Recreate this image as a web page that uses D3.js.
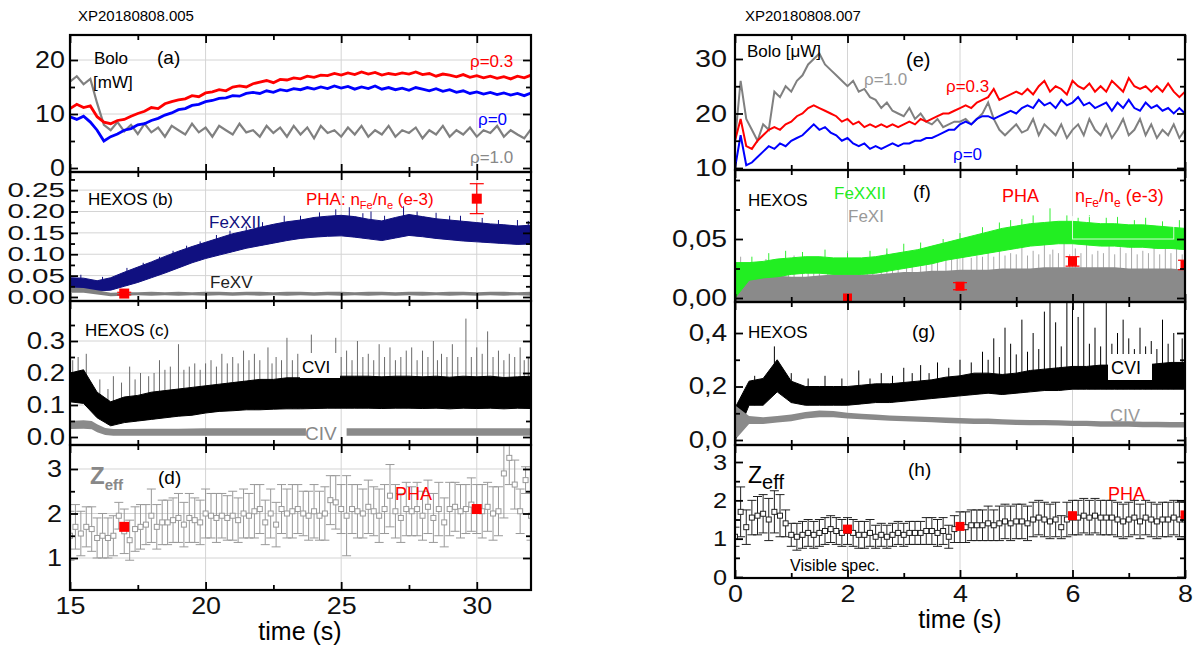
<!DOCTYPE html>
<html><head><meta charset="utf-8">
<script src="https://cdn.jsdelivr.net/npm/d3@7"></script>
<style>body{margin:0;background:#fff}svg text{font-family:"Liberation Sans",Arial,sans-serif}</style>
</head><body><svg id="c" width="1197" height="650"></svg>
<script>
// ---------- time grids ----------
const tA = [15,15.25,15.5,15.75,16,16.25,16.5,16.75,17,17.25,17.5,17.75,18,18.25,18.5,18.75,19,19.25,19.5,19.75,20,20.25,20.5,20.75,21,21.25,21.5,21.75,22,22.25,22.5,22.75,23,23.25,23.5,23.75,24,24.25,24.5,24.75,25,25.25,25.5,25.75,26,26.25,26.5,26.75,27,27.25,27.5,27.75,28,28.25,28.5,28.75,29,29.25,29.5,29.75,30,30.25,30.5,30.75,31,31.25,31.5,31.75,32];
const tB = [15,15.5,16,16.5,17,17.5,18,18.5,19,19.5,20,20.5,21,21.5,22,22.5,23,23.5,24,24.5,25,25.5,26,26.5,27,27.5,28,28.5,29,29.5,30,30.5,31,31.5,32];
const tZL = [15,15.2,15.4,15.6,15.8,16,16.2,16.4,16.6,16.8,17,17.2,17.4,17.6,17.8,18,18.2,18.4,18.6,18.8,19,19.2,19.4,19.6,19.8,20,20.2,20.4,20.6,20.8,21,21.2,21.4,21.6,21.8,22,22.2,22.4,22.6,22.8,23,23.2,23.4,23.6,23.8,24,24.2,24.4,24.6,24.8,25,25.2,25.4,25.6,25.8,26,26.2,26.4,26.6,26.8,27,27.2,27.4,27.6,27.8,28,28.2,28.4,28.6,28.8,29,29.2,29.4,29.6,29.8,30,30.2,30.4,30.6,30.8,31,31.2,31.4,31.6,31.8,32];
const tR = [0,0.1,0.2,0.3,0.4,0.5,0.6,0.7,0.8,0.9,1,1.1,1.2,1.3,1.4,1.5,1.6,1.7,1.8,1.9,2,2.1,2.2,2.3,2.4,2.5,2.6,2.7,2.8,2.9,3,3.1,3.2,3.3,3.4,3.5,3.6,3.7,3.8,3.9,4,4.1,4.2,4.3,4.4,4.5,4.6,4.7,4.8,4.9,5,5.1,5.2,5.3,5.4,5.5,5.6,5.7,5.8,5.9,6,6.1,6.2,6.3,6.4,6.5,6.6,6.7,6.8,6.9,7,7.1,7.2,7.3,7.4,7.5,7.6,7.7,7.8,7.9,8];
const tRq = [0,0.25,0.5,0.75,1,1.25,1.5,1.75,2,2.25,2.5,2.75,3,3.25,3.5,3.75,4,4.25,4.5,4.75,5,5.25,5.5,5.75,6,6.25,6.5,6.75,7,7.25,7.5,7.75,8];

// ---------- (a) Bolometer, XP20180808.005 [mW] ----------
const boloA_rho03 = [11.0,11.8,11.2,11.5,9.5,8.5,8.2,8.8,9.0,9.6,10.1,10.5,11.2,11.0,11.9,12.3,12.6,12.8,13.4,13.2,13.9,14.1,14.5,14.3,15.0,15.2,15.0,15.6,15.9,16.2,15.8,16.4,16.3,16.7,16.5,17.0,16.8,17.2,17.1,17.5,17.2,17.6,17.3,17.8,17.4,17.7,17.2,17.5,17.3,17.6,17.4,17.8,17.3,17.5,17.0,17.4,17.2,16.9,17.3,16.8,17.1,16.7,17.0,16.6,16.9,16.5,17.0,16.7,17.2];
const boloA_rho0 = [9.5,9.0,9.6,8.5,7.0,5.0,5.8,6.3,7.0,7.3,8.0,8.2,8.8,9.2,9.8,10.2,10.8,11.0,11.6,11.8,12.3,12.5,12.9,13.0,13.4,13.3,13.8,14.0,13.8,14.3,14.0,14.5,14.3,14.7,14.5,14.9,14.6,15.0,14.7,15.2,14.8,15.1,14.6,15.0,14.7,15.2,14.6,14.9,14.5,14.8,14.4,14.9,14.6,14.3,14.7,14.2,14.5,14.0,14.3,13.8,14.1,13.7,14.0,13.6,13.9,13.5,13.8,13.4,13.9];
const boloA_rho10 = [16,17,15.5,16.5,12,8,7,8.5,6.8,8,6.3,8.2,6.6,7.5,5.8,7.8,7,6.2,8.2,6.6,7.5,5.8,7.8,7,6.2,8.2,6.6,7,5.8,7.8,6.5,7.5,5.8,7.8,6.2,7.5,5.5,7.8,6.5,7,5.8,7.5,6.2,7.8,5.8,7,6.2,7.8,5.8,7,6.5,7.5,5.5,7,6.2,7.8,5.8,7,6.2,7.5,5.8,7,6.5,7.8,5.8,7,6.2,5.5,7.2];

// ---------- (b) HEXOS Fe lines (envelopes of the noisy traces) ----------
const feXXII_lo = [0.018,0.017,0.014,0.016,0.025,0.034,0.045,0.056,0.068,0.080,0.090,0.098,0.106,0.114,0.120,0.126,0.132,0.137,0.140,0.142,0.143,0.140,0.136,0.132,0.138,0.144,0.141,0.137,0.134,0.131,0.129,0.127,0.125,0.123,0.124];
const feXXII_hi = [0.045,0.044,0.038,0.045,0.058,0.070,0.082,0.095,0.107,0.118,0.128,0.138,0.148,0.155,0.163,0.170,0.176,0.180,0.186,0.189,0.191,0.188,0.182,0.178,0.186,0.193,0.188,0.183,0.180,0.177,0.174,0.171,0.169,0.166,0.168];
const feXXII_spikes = [[15.4,0.052],[16.2,0.047],[17.1,0.068],[17.7,0.08],[18.3,0.094],[18.8,0.108],[19.3,0.12],[19.8,0.13],[20.4,0.145],[20.9,0.155],[21.5,0.165],[22.1,0.175],[22.9,0.19],[23.5,0.19],[24.2,0.198],[24.8,0.205],[25.3,0.21],[25.8,0.196],[26.1,0.2],[26.6,0.19],[27.3,0.212],[27.8,0.2],[28.5,0.197],[29.0,0.19],[29.4,0.19],[30.2,0.185],[30.8,0.18],[31.5,0.18],[31.9,0.178]];
const feXV_lo = [0.010,0.010,0.006,0.002,0.003,0.004,0.003,0.004,0.003,0.004,0.003,0.004,0.003,0.004,0.003,0.004,0.003,0.004,0.003,0.004,0.003,0.004,0.003,0.004,0.003,0.004,0.003,0.004,0.003,0.004,0.003,0.004,0.003,0.004,0.003];
const feXV_hi = [0.022,0.021,0.016,0.010,0.011,0.011,0.012,0.011,0.012,0.011,0.012,0.012,0.011,0.012,0.012,0.011,0.012,0.012,0.011,0.012,0.012,0.011,0.012,0.012,0.011,0.012,0.012,0.011,0.012,0.012,0.011,0.012,0.012,0.011,0.012];
const phaB_t = [17, 30];
const phaB_v = [0.008, 0.23];
const phaB_err = [0.003, 0.035];

// ---------- (c) HEXOS C lines ----------
const cviL_lo = [0.11,0.105,0.06,0.035,0.045,0.05,0.055,0.06,0.065,0.068,0.075,0.08,0.082,0.085,0.085,0.087,0.088,0.088,0.089,0.09,0.09,0.09,0.09,0.089,0.09,0.09,0.089,0.09,0.088,0.09,0.089,0.09,0.088,0.09,0.089];
const cviL_hi = [0.20,0.21,0.14,0.11,0.125,0.13,0.14,0.145,0.15,0.155,0.16,0.165,0.17,0.175,0.18,0.18,0.185,0.185,0.185,0.187,0.19,0.19,0.19,0.188,0.19,0.19,0.188,0.19,0.187,0.19,0.188,0.19,0.186,0.188,0.19];
const cviL_spikes = [[15.1,0.24],[15.3,0.25],[15.6,0.26],[16.1,0.18],[16.4,0.15],[16.6,0.19],[16.9,0.17],[17.2,0.22],[17.4,0.18],[17.6,0.2],[17.9,0.19],[18.1,0.2],[18.3,0.24],[18.5,0.21],[18.7,0.22],[19.0,0.29],[19.2,0.21],[19.4,0.22],[19.6,0.23],[19.8,0.21],[20.0,0.23],[20.2,0.24],[20.4,0.22],[20.6,0.26],[20.8,0.23],[21.0,0.25],[21.2,0.23],[21.4,0.27],[21.6,0.24],[21.8,0.26],[22.0,0.24],[22.3,0.28],[22.45,0.23],[22.6,0.25],[22.8,0.24],[23.0,0.31],[23.2,0.24],[23.4,0.26],[23.6,0.25],[23.9,0.32],[24.1,0.25],[24.3,0.26],[24.5,0.24],[24.8,0.31],[25.0,0.25],[25.2,0.27],[25.4,0.24],[25.6,0.3],[25.8,0.25],[26.0,0.26],[26.2,0.24],[26.4,0.29],[26.6,0.25],[26.8,0.28],[27.0,0.24],[27.2,0.25],[27.4,0.27],[27.6,0.28],[27.8,0.24],[28.0,0.27],[28.2,0.25],[28.4,0.3],[28.55,0.24],[28.7,0.26],[28.9,0.25],[29.1,0.29],[29.3,0.25],[29.6,0.37],[29.8,0.25],[30.0,0.28],[30.2,0.26],[30.4,0.33],[30.6,0.25],[30.8,0.27],[31.0,0.24],[31.2,0.26],[31.4,0.25],[31.6,0.28],[31.75,0.24],[31.9,0.25]];
const civL_t = [15,15.5,15.8,16.0,16.3,16.6,17,18,19,20,21,22,23,23.7,24.5,25.2,26,27,28,29,30,31,32];
const civL_lo = [0.025,0.026,0.024,0.015,0.006,0.004,0.004,0.004,0.004,0.004,0.004,0.004,0.004,0.004,null,0.004,0.004,0.004,0.004,0.004,0.004,0.004,0.004];
const civL_hi = [0.05,0.052,0.05,0.04,0.028,0.025,0.025,0.026,0.026,0.027,0.027,0.027,0.027,0.027,null,0.027,0.027,0.027,0.027,0.027,0.027,0.027,0.027];

// ---------- (d) Zeff, XP20180808.005 ----------
const zeffL = [1.5,1.7,1.55,1.7,1.65,1.45,1.5,1.45,1.5,1.95,1.6,1.4,1.65,1.7,1.75,1.95,1.7,1.8,1.8,1.85,1.9,1.75,1.9,1.85,1.8,2.0,1.95,1.9,1.95,1.9,1.95,1.85,2.0,1.95,2.05,2.1,1.8,2.0,1.75,2.1,2.0,2.05,2.1,2.0,1.95,2.05,1.95,2.0,2.3,2.25,2.1,1.95,2.1,2.05,2.0,2.15,2.05,1.95,2.1,2.4,2.05,1.9,2.1,2.05,2.1,1.95,2.15,1.9,2.1,1.8,2.1,2.15,2.05,2.1,2.2,2.1,2.05,2.15,2.0,2.05,2.9,3.25,2.65,2.05,2.75,1.95];
const zeffL_err = [0.55,0.5,0.5,0.45,0.5,0.45,0.5,0.45,0.45,0.3,0.5,0.45,0.5,0.5,0.45,0.6,0.5,0.5,0.5,0.5,0.55,0.5,0.55,0.5,0.5,0.55,0.5,0.55,0.5,0.5,0.55,0.5,0.55,0.5,0.6,0.55,0.5,0.55,0.5,0.55,0.55,0.6,0.55,0.5,0.55,0.6,0.55,0.6,0.55,0.6,0.55,0.9,0.55,0.6,0.55,0.6,0.55,0.6,0.55,0.7,0.6,0.55,0.6,0.55,0.6,0.55,0.6,0.55,0.6,0.55,0.6,0.55,0.6,0.55,0.6,0.55,0.6,0.55,0.6,0.55,1.0,0.6,0.55,0.5,0.3,0.55];
const phaD_t = [17, 30];
const phaD_v = [1.7, 2.1];

// ---------- (e) Bolometer, XP20180808.007 [uW] ----------
const boloE_rho10 = [15,26,19,17,15,18,17,24,23,25,24,26,27,29,30,31,29,28,27,26,25,26,24,24.5,23,22.5,21,22,20.5,20,19.5,21,19,20,18.5,18,19,17.5,18,18.5,18.5,19,18,19,20,22,19,17,16,17,18,16.5,17,19,16,18,17,16,18,15.5,17,18,16,19,17,16,18,15.5,17,19,16,17,19,16,18,15.5,17,16,18,15.5,17];
const boloE_rho03 = [15,19,14,13.5,15,16,17,17.5,17,18,18.5,19.5,20,21,21.5,21,20.5,20,19.5,18.5,19,18,18.5,17.5,18,17.5,18,17.5,18,17.5,18,18.5,18,19,18.5,19,19.5,20,20,20.5,21,21.5,21,22,22.5,23,24.5,22.5,23,23.5,24,23.5,24.5,23.5,25,26,24,25,24.5,23.5,26,25,24.5,25.5,24,25,24,26,25,24,26.5,25,24.5,25,24,25,24,25.5,24,23,24];
const boloE_rho0 = [10,16,10.5,11,12,13,14,13.5,14.5,14,15,15.5,16,17,18,17,17.5,16.5,16,15,15.5,14.5,14,14.5,13.5,14,13.5,14,14.5,14,14.5,14.5,15,15,15.5,15.5,16,16.5,17,17,18,18.5,18,19,19.5,19.5,19,19.5,20,20.5,20,21,21.5,21,22.5,21.5,22,21,22.5,21.5,22,23,21.5,22,21,21.5,22,20.5,22,21,22.5,21,20.5,22,21,21.5,20.5,21,20,21,20];

// ---------- (f) HEXOS Fe lines, XP20180808.007 ----------
const feXXIIR_lo = [0.0,0.015,0.017,0.018,0.02,0.021,0.021,0.02,0.02,0.02,0.021,0.023,0.025,0.027,0.029,0.032,0.034,0.036,0.038,0.04,0.042,0.044,0.045,0.046,0.046,0.045,0.044,0.044,0.043,0.043,0.042,0.042,0.041];
const feXXIIR_hi = [0.03,0.03,0.031,0.033,0.034,0.035,0.035,0.034,0.034,0.034,0.035,0.037,0.039,0.041,0.044,0.047,0.05,0.053,0.056,0.059,0.061,0.063,0.064,0.065,0.065,0.064,0.063,0.063,0.062,0.062,0.061,0.06,0.059];
const feXXIIR_spikes = [[0.3,0.035],[0.6,0.038],[0.9,0.04],[1.2,0.039],[1.6,0.041],[2.0,0.038],[2.4,0.04],[2.7,0.042],[3.0,0.046],[3.3,0.047],[3.7,0.05],[4.0,0.055],[4.4,0.06],[4.7,0.064],[4.9,0.066],[5.1,0.067],[5.3,0.07],[5.6,0.076],[5.9,0.07],[6.1,0.068],[6.3,0.07],[6.6,0.068],[6.8,0.069],[7.1,0.066],[7.3,0.068],[7.6,0.065],[7.9,0.066]];
const feXI_hi = [0.018,0.018,0.019,0.019,0.018,0.018,0.019,0.02,0.02,0.02,0.02,0.021,0.022,0.022,0.023,0.023,0.024,0.024,0.024,0.025,0.025,0.025,0.026,0.026,0.026,0.026,0.026,0.026,0.025,0.025,0.025,0.025,0.024];
const feXI_spikes = [[0.1,0.035],[0.2,0.026],[0.3,0.03],[0.45,0.027],[0.55,0.033],[0.7,0.028],[0.8,0.032],[0.95,0.027],[1.05,0.036],[1.2,0.028],[1.3,0.031],[1.4,0.027],[1.5,0.035],[1.65,0.028],[1.75,0.032],[1.9,0.029],[2.0,0.04],[2.1,0.029],[2.2,0.03],[2.35,0.028],[2.45,0.034],[2.6,0.03],[2.7,0.038],[2.8,0.03],[2.9,0.033],[3.05,0.031],[3.15,0.036],[3.3,0.03],[3.4,0.031],[3.5,0.033],[3.6,0.039],[3.75,0.032],[3.85,0.035],[3.95,0.033],[4.05,0.042],[4.2,0.034],[4.3,0.036],[4.4,0.035],[4.5,0.04],[4.6,0.035],[4.7,0.045],[4.8,0.036],[4.9,0.038],[5.0,0.037],[5.1,0.043],[5.2,0.036],[5.3,0.04],[5.4,0.037],[5.5,0.046],[5.6,0.037],[5.65,0.041],[5.75,0.038],[5.85,0.048],[5.95,0.037],[6.05,0.042],[6.15,0.038],[6.25,0.046],[6.35,0.037],[6.45,0.04],[6.55,0.038],[6.65,0.047],[6.75,0.037],[6.85,0.043],[6.95,0.038],[7.05,0.045],[7.15,0.037],[7.25,0.04],[7.35,0.038],[7.45,0.046],[7.55,0.037],[7.65,0.042],[7.75,0.038],[7.85,0.044],[7.95,0.037]];
const phaF_t = [2, 4, 6, 8];
const phaF_v = [0.0, 0.01, 0.031, 0.028];
const phaF_err = [0.0, 0.003, 0.004, 0.004];

// ---------- (g) HEXOS C lines, XP20180808.007 ----------
const cviR_lo = [0.0,0.13,0.13,0.18,0.14,0.13,0.13,0.13,0.13,0.135,0.14,0.14,0.145,0.15,0.155,0.16,0.165,0.17,0.175,0.17,0.175,0.18,0.185,0.185,0.19,0.19,0.19,0.19,0.19,0.19,0.19,0.19,0.19];
const cviR_hi = [0.12,0.22,0.23,0.30,0.22,0.2,0.2,0.2,0.2,0.205,0.21,0.21,0.215,0.22,0.225,0.235,0.24,0.25,0.25,0.245,0.25,0.26,0.265,0.27,0.275,0.275,0.28,0.28,0.28,0.28,0.285,0.29,0.29];
const cviR_spikes = [[0.35,0.24],[0.7,0.35],[1.0,0.25],[1.3,0.23],[1.6,0.24],[1.9,0.23],[2.2,0.26],[2.4,0.23],[2.6,0.25],[2.8,0.24],[3.0,0.27],[3.15,0.25],[3.3,0.28],[3.45,0.25],[3.6,0.29],[3.8,0.27],[4.0,0.3],[4.2,0.29],[4.4,0.33],[4.5,0.3],[4.6,0.38],[4.7,0.31],[4.8,0.42],[4.9,0.36],[5.0,0.32],[5.1,0.45],[5.2,0.33],[5.3,0.4],[5.4,0.34],[5.5,0.48],[5.6,0.52],[5.7,0.44],[5.8,0.35],[5.9,0.52],[6.0,0.5],[6.1,0.46],[6.2,0.52],[6.3,0.36],[6.4,0.42],[6.5,0.35],[6.6,0.52],[6.7,0.36],[6.8,0.4],[6.9,0.45],[7.0,0.38],[7.1,0.34],[7.2,0.42],[7.3,0.35],[7.4,0.37],[7.5,0.34],[7.6,0.45],[7.7,0.36],[7.8,0.4],[7.95,0.38]];
const civR_lo = [0.0,0.06,0.06,0.065,0.07,0.08,0.085,0.085,0.08,0.078,0.075,0.072,0.07,0.068,0.066,0.064,0.062,0.06,0.06,0.058,0.056,0.055,0.055,0.054,0.052,0.052,0.05,0.05,0.05,0.048,0.048,0.047,0.047];
const civR_hi = [0.13,0.09,0.085,0.09,0.095,0.105,0.11,0.108,0.102,0.098,0.095,0.092,0.09,0.088,0.086,0.084,0.082,0.08,0.08,0.078,0.076,0.075,0.075,0.074,0.072,0.072,0.07,0.07,0.07,0.068,0.068,0.067,0.067];

// ---------- (h) Zeff, XP20180808.007 ----------
const zeffR = [1.05,1.7,1.3,1.55,1.6,1.65,1.5,1.7,1.6,1.4,1.1,1.05,1.1,1.15,1.1,1.15,1.2,1.25,1.2,1.15,1.2,1.15,1.1,1.1,1.15,1.05,1.1,1.05,1.1,1.15,1.1,1.15,1.15,1.15,1.2,1.2,1.15,1.2,1.05,1.25,1.3,1.3,1.35,1.35,1.35,1.4,1.35,1.4,1.45,1.4,1.45,1.45,1.4,1.5,1.55,1.5,1.45,1.5,1.3,1.5,1.55,1.55,1.6,1.55,1.6,1.55,1.55,1.55,1.5,1.45,1.5,1.55,1.45,1.55,1.5,1.45,1.5,1.5,1.55,1.5,1.5];
const zeffR_err = [0.25,0.65,0.45,0.45,0.5,0.5,0.55,0.55,0.55,0.35,0.3,0.35,0.35,0.35,0.35,0.35,0.35,0.35,0.35,0.35,0.35,0.35,0.35,0.35,0.35,0.3,0.3,0.3,0.3,0.3,0.3,0.3,0.3,0.3,0.35,0.35,0.35,0.35,0.3,0.35,0.4,0.4,0.4,0.4,0.4,0.45,0.4,0.45,0.45,0.45,0.45,0.45,0.45,0.45,0.45,0.45,0.45,0.45,0.3,0.45,0.45,0.45,0.45,0.45,0.45,0.45,0.45,0.45,0.45,0.45,0.45,0.45,0.45,0.45,0.45,0.45,0.45,0.45,0.45,0.45,0.45];
const phaH_t = [2, 4, 6, 8];
const phaH_v = [1.25, 1.32, 1.6, 1.62];

// ---------- axis ticks ----------
const xTicksL = [15,20,25,30], xMinorL = [17.5,22.5,27.5];
const xTicksR = [0,2,4,6,8], xMinorR = [1,3,5,7];
const yTicks = {
  a:[0,10,20], aMin:[5,15],
  b:[0,0.05,0.1,0.15,0.2,0.25], bMin:[0.025,0.075,0.125,0.175,0.225,0.275],
  c:[0,0.1,0.2,0.3], cMin:[0.05,0.15,0.25,0.35],
  d:[1,2,3], dMin:[1.5,2.5],
  e:[10,20,30], eMin:[15,25],
  f:[0,0.05], fMin:[0.025,0.075,0.1],
  g:[0,0.2,0.4], gMin:[0.1,0.3],
  h:[0,1,2,3], hMin:[0.5,1.5,2.5]
};

// ---------- drawing ----------
const svg = d3.select("#c");
const defs = svg.append("defs");
let clipN = 0;
const xL = d3.scaleLinear([15,32],[70,531]);
const xR = d3.scaleLinear([0,8],[735,1185]);

function txt(g, x, y, s, o={}) {
  const t = g.append("text").attr("x",x).attr("y",y)
    .attr("font-size",o.size||17).attr("fill",o.fill||"#000")
    .attr("text-anchor",o.anchor||"start");
  if (o.family) t.attr("font-family",o.family);
  if (o.weight) t.attr("font-weight",o.weight);
  if (Array.isArray(s)) {
    s.forEach(p => {
      const sp = t.append("tspan").text(p.t);
      if (p.sub) sp.attr("font-size",p.sub).attr("dy",p.dy);
      else if (p.dy) sp.attr("dy",p.dy);
    });
  } else t.text(s);
  return t;
}
function stretch(sel, f) {
  sel.each(function(){ const w = this.getComputedTextLength(); if (w>0) d3.select(this).attr("textLength", w*f).attr("lengthAdjust","spacingAndGlyphs"); });
}
function interpAt(ts, arr, t) {
  let i = d3.bisectRight(ts, t) - 1;
  i = Math.max(0, Math.min(ts.length-2, i));
  const a = arr[i], b = arr[i+1];
  return a + (b-a)*(t-ts[i])/(ts[i+1]-ts[i]);
}

function panel(o) {
  const x = o.x;
  const L = x.range()[0], R = x.range()[1];
  const y = d3.scaleLinear(o.yDomain,[o.bottom,o.top]);
  const g = svg.append("g");
  const id = "clip"+(clipN++);
  defs.append("clipPath").attr("id",id).append("rect")
    .attr("x",L).attr("y",o.top).attr("width",R-L).attr("height",o.bottom-o.top);
  const gg = g.append("g").attr("stroke","#d4d4d4").attr("stroke-width",1);
  (o.xGrid||[]).forEach(v=>gg.append("line").attr("x1",x(v)).attr("x2",x(v)).attr("y1",o.top).attr("y2",o.bottom));
  (o.yGrid||[]).forEach(v=>gg.append("line").attr("x1",L).attr("x2",R).attr("y1",y(v)).attr("y2",y(v)));
  const plot = g.append("g").attr("clip-path",`url(#${id})`);
  o.draw(plot,x,y);
  const ax = g.append("g");
  const st = sel => { sel.select(".domain").remove(); sel.selectAll("line").attr("stroke","#000").attr("stroke-width",1.8); };
  const fs = o.fs || 24;
  ax.append("g").attr("transform",`translate(${L},0)`)
    .call(d3.axisLeft(y).tickValues(o.yMajor).tickFormat(o.yFmt).tickSizeInner(-8).tickSizeOuter(0).tickPadding(o.pad))
    .call(st).call(s=>{ s.selectAll("text").attr("font-size",fs).attr("fill","#111").attr("font-family","Liberation Sans, Arial, sans-serif"); stretch(s.selectAll("text"), o.sx||1.15); });
  ax.append("g").attr("transform",`translate(${L},0)`).call(d3.axisLeft(y).tickValues(o.yMinor).tickFormat("").tickSizeInner(-5).tickSizeOuter(0)).call(st);
  ax.append("g").attr("transform",`translate(${R},0)`).call(d3.axisRight(y).tickValues(o.yMajor).tickFormat("").tickSizeInner(-8).tickSizeOuter(0)).call(st);
  ax.append("g").attr("transform",`translate(${R},0)`).call(d3.axisRight(y).tickValues(o.yMinor).tickFormat("").tickSizeInner(-5).tickSizeOuter(0)).call(st);
  ax.append("g").attr("transform",`translate(0,${o.top})`).call(d3.axisTop(x).tickValues(o.xMajor).tickFormat("").tickSizeInner(-8).tickSizeOuter(0)).call(st);
  ax.append("g").attr("transform",`translate(0,${o.top})`).call(d3.axisTop(x).tickValues(o.xMinor).tickFormat("").tickSizeInner(-5).tickSizeOuter(0)).call(st);
  ax.append("g").attr("transform",`translate(0,${o.bottom})`).call(d3.axisBottom(x).tickValues(o.xMajor).tickFormat(o.xLabels?d3.format("d"):"").tickSizeInner(-8).tickSizeOuter(0).tickPadding(7))
    .call(st).call(s=>{ s.selectAll("text").attr("font-size",24).attr("fill","#111").attr("font-family","Liberation Sans, Arial, sans-serif"); stretch(s.selectAll("text"),1.12); });
  ax.append("g").attr("transform",`translate(0,${o.bottom})`).call(d3.axisBottom(x).tickValues(o.xMinor).tickFormat("").tickSizeInner(-5).tickSizeOuter(0)).call(st);
  g.append("rect").attr("x",L).attr("y",o.top).attr("width",R-L).attr("height",o.bottom-o.top)
    .attr("fill","none").attr("stroke","#000").attr("stroke-width",2.2);
  if (o.labels) o.labels(g,x,y);
  return {x,y};
}

const lineOf = (x,y,ts,vs) => d3.line().x((d,i)=>x(ts[i])).y(d=>y(d))(vs);
const areaOf = (x,y,ts,lo,hi) => d3.area().defined((d,i)=>lo[i]!=null && hi[i]!=null)
  .x((d,i)=>x(ts[i])).y0((d,i)=>y(lo[i])).y1((d,i)=>y(hi[i]))(ts);
// spikes rise from the band (base read from band array at the spike time)
function spikes(p,x,y,arr,ts,baseArr,color,w){
  p.selectAll(null).data(arr).enter().append("line")
    .attr("x1",d=>x(d[0])).attr("x2",d=>x(d[0]))
    .attr("y1",d=>y(baseArr ? interpAt(ts,baseArr,d[0]) : 0))
    .attr("y2",d=>y(d[1]))
    .attr("stroke",color).attr("stroke-width",w||1);
}
function errSquares(p,x,y,ts,vs,es,color,fill,size,cap,ew){
  const g = p.append("g");
  ts.forEach((t,i)=>{
    if (es && es[i]>0) {
      g.append("line").attr("x1",x(t)).attr("x2",x(t)).attr("y1",y(vs[i]-es[i])).attr("y2",y(vs[i]+es[i])).attr("stroke",color).attr("stroke-width",ew||1);
      [vs[i]-es[i],vs[i]+es[i]].forEach(v=>g.append("line").attr("x1",x(t)-cap).attr("x2",x(t)+cap).attr("y1",y(v)).attr("y2",y(v)).attr("stroke",color).attr("stroke-width",ew||1));
    }
  });
  ts.forEach((t,i)=>{
    g.append("rect").attr("x",x(t)-size/2).attr("y",y(vs[i])-size/2).attr("width",size).attr("height",size)
      .attr("fill",fill).attr("stroke",fill==="#fff"?color:"none").attr("stroke-width",1);
  });
}

const fmt2 = d3.format(".2f"), fmt1 = d3.format(".1f");
const fmtComma2 = v => d3.format(".2f")(v).replace(".",",");
const fmtComma1 = v => d3.format(".1f")(v).replace(".",",");

// titles
txt(svg, 78, 21, "XP20180808.005", {size:15});
txt(svg, 745, 21, "XP20180808.007", {size:15});

// (a)
panel({x:xL, top:35, bottom:172, yDomain:[-0.74,24.63], yMajor:yTicks.a, yMinor:yTicks.aMin, yFmt:d3.format("d"), pad:5, sx:1.12,
  xMajor:xTicksL, xMinor:xMinorL, xGrid:[20,25,30], yGrid:[10,20],
  draw:(p,x,y)=>{
    p.append("path").attr("d",lineOf(x,y,tA,boloA_rho10)).attr("fill","none").attr("stroke","#808080").attr("stroke-width",2.2);
    p.append("path").attr("d",lineOf(x,y,tA,boloA_rho03)).attr("fill","none").attr("stroke","#ff0000").attr("stroke-width",2.8);
    p.append("path").attr("d",lineOf(x,y,tA,boloA_rho0)).attr("fill","none").attr("stroke","#0000ff").attr("stroke-width",2.8);
  },
  labels:(g)=>{
    txt(g,94,64,"Bolo"); txt(g,93,88,"[mW]"); txt(g,157,64,"(a)",{size:19});
    txt(g,470,67,"ρ=0.3",{fill:"#ff0000",family:"Liberation Serif, serif",size:17});
    txt(g,478,125,"ρ=0",{fill:"#0000ff",family:"Liberation Serif, serif",size:17});
    txt(g,470,163,"ρ=1.0",{fill:"#888",family:"Liberation Serif, serif",size:17});
  }});

// (b)
panel({x:xL, top:172, bottom:301, yDomain:[-0.0094,0.2924], yMajor:yTicks.b, yMinor:yTicks.bMin, yFmt:fmt2, pad:5, fs:20, sx:1.48,
  xMajor:xTicksL, xMinor:xMinorL, xGrid:[20,25,30], yGrid:[0.05,0.1,0.15,0.2,0.25],
  draw:(p,x,y)=>{
    spikes(p,x,y,feXXII_spikes,tB,feXXII_lo,"#101080",1);
    p.append("path").attr("d",areaOf(x,y,tB,feXXII_lo,feXXII_hi)).attr("fill","#101080").attr("stroke","#101080").attr("stroke-width",1);
    p.append("path").attr("d",areaOf(x,y,tB,feXV_lo,feXV_hi)).attr("fill","#808080");
    errSquares(p,x,y,phaB_t,phaB_v,phaB_err,"#ff0000","#ff0000",10,7,1.2);
  },
  labels:(g)=>{
    txt(g,88,205,"HEXOS (b)");
    txt(g,306,205,[{t:"PHA: n"},{t:"Fe",sub:11,dy:4},{t:"/n",dy:-4},{t:"e",sub:11,dy:4},{t:" (e-3)",dy:-4}],{fill:"#ff0000"});
    txt(g,209,228,"FeXXII",{fill:"#101080"});
    txt(g,210,288,"FeXV",{fill:"#222"});
  }});

// (c)
panel({x:xL, top:301, bottom:445, yDomain:[-0.025,0.425], yMajor:yTicks.c, yMinor:yTicks.cMin, yFmt:fmt1, pad:5, sx:1.15,
  xMajor:xTicksL, xMinor:xMinorL, xGrid:[20,25,30], yGrid:[0.1,0.2,0.3],
  draw:(p,x,y)=>{
    spikes(p,x,y,cviL_spikes,tB,cviL_lo,"#6a6a6a",1);
    p.append("path").attr("d",areaOf(x,y,tB,cviL_lo,cviL_hi)).attr("fill","#000").attr("stroke","#000").attr("stroke-width",1);
    p.append("path").attr("d",areaOf(x,y,civL_t,civL_lo,civL_hi)).attr("fill","#8a8a8a");
  },
  labels:(g)=>{
    txt(g,85,336,"HEXOS  (c)");
    g.append("rect").attr("x",300).attr("y",353).attr("width",40).attr("height",25).attr("fill","#fff");
    txt(g,302,373,"CVI");
    txt(g,305,440,"CIV",{fill:"#888",size:19});
  }});

// (d)
panel({x:xL, top:445, bottom:590, yDomain:[0.281,3.539], yMajor:yTicks.d, yMinor:yTicks.dMin, yFmt:d3.format("d"), pad:8, sx:1.12,
  xMajor:xTicksL, xMinor:xMinorL, xGrid:[20,25,30], yGrid:[1,2,3], xLabels:true,
  draw:(p,x,y)=>{
    errSquares(p,x,y,tZL,zeffL,zeffL_err,"#999","#fff",5,4.5,1);
    errSquares(p,x,y,phaD_t,phaD_v,null,"#ff0000","#ff0000",10,0,1);
  },
  labels:(g)=>{
    txt(g,90,484,[{t:"Z"},{t:"eff",sub:15,dy:6}],{fill:"#888",size:24,weight:"bold"});
    txt(g,158,484,"(d)",{size:19});
    txt(g,395,500,"PHA",{fill:"#ff0000",size:18});
  }});

// (e)
panel({x:xR, top:35, bottom:170, yDomain:[9.63,34.4], yMajor:yTicks.e, yMinor:yTicks.eMin, yFmt:d3.format("d"), pad:8, sx:1.2,
  xMajor:xTicksR, xMinor:xMinorR, xGrid:[2,4,6],
  draw:(p,x,y)=>{
    p.append("path").attr("d",lineOf(x,y,tR,boloE_rho10)).attr("fill","none").attr("stroke","#808080").attr("stroke-width",2);
    p.append("path").attr("d",lineOf(x,y,tR,boloE_rho03)).attr("fill","none").attr("stroke","#ff0000").attr("stroke-width",2);
    p.append("path").attr("d",lineOf(x,y,tR,boloE_rho0)).attr("fill","none").attr("stroke","#0000ff").attr("stroke-width",2);
  },
  labels:(g)=>{
    txt(g,747,57,"Bolo [μW]");
    txt(g,906,67,"(e)",{size:20});
    txt(g,864,85,"ρ=1.0",{fill:"#999",family:"Liberation Serif, serif",size:17});
    txt(g,946,92,"ρ=0.3",{fill:"#ff0000",family:"Liberation Serif, serif",size:17});
    txt(g,953,160,"ρ=0",{fill:"#0000ff",family:"Liberation Serif, serif",size:17});
  }});

// (f)
panel({x:xR, top:170, bottom:302, yDomain:[-0.0034,0.1085], yMajor:yTicks.f, yMinor:yTicks.fMin, yFmt:fmtComma2, pad:8, sx:1.18,
  xMajor:xTicksR, xMinor:xMinorR, xGrid:[2,4,6],
  draw:(p,x,y)=>{
    spikes(p,x,y,feXI_spikes,null,null,"#a8a8a8",1);
    p.append("path").attr("d",areaOf(x,y,tRq,feXI_hi.map(()=>-0.0034),feXI_hi)).attr("fill","#8a8a8a");
    spikes(p,x,y,feXXIIR_spikes,tRq,feXXIIR_lo,"#33ee33",1);
    p.append("path").attr("d",areaOf(x,y,tRq,feXXIIR_lo,feXXIIR_hi)).attr("fill","#22ee22").attr("stroke","#22ee22").attr("stroke-width",1);
    errSquares(p,x,y,phaF_t,phaF_v,phaF_err,"#ff0000","#ff0000",9,7,1.2);
  },
  labels:(g,x,y)=>{
    g.append("rect").attr("x",x(6)).attr("y",y(0.069)).attr("width",x(7.8)-x(6)).attr("height",y(0.05)-y(0.069))
      .attr("fill","none").attr("stroke","#fff").attr("stroke-opacity",0.8).attr("stroke-width",1);
    txt(g,748,206,"HEXOS");
    txt(g,834,199,"FeXXII",{fill:"#22ee22"});
    txt(g,848,222,"FeXI",{fill:"#999"});
    txt(g,913,198,"(f)",{size:19});
    txt(g,1002,202,"PHA",{fill:"#ff0000",size:18});
    txt(g,1075,202,[{t:"n"},{t:"Fe",sub:12,dy:5},{t:"/n",dy:-5},{t:"e",sub:12,dy:5},{t:" (e-3)",dy:-5}],{fill:"#ff0000",size:18});
  }});

// (g)
panel({x:xR, top:302, bottom:445, yDomain:[-0.0187,0.516], yMajor:yTicks.g, yMinor:yTicks.gMin, yFmt:fmtComma1, pad:8, fs:23, sx:1.2,
  xMajor:xTicksR, xMinor:xMinorR, xGrid:[2,4,6],
  draw:(p,x,y)=>{
    spikes(p,x,y,cviR_spikes,tRq,cviR_lo,"#000",1);
    p.append("path").attr("d",areaOf(x,y,tRq,cviR_lo,cviR_hi)).attr("fill","#000").attr("stroke","#000").attr("stroke-width",1);
    p.append("path").attr("d",areaOf(x,y,tRq,civR_lo,civR_hi)).attr("fill","#8a8a8a");
  },
  labels:(g)=>{
    txt(g,748,338,"HEXOS");
    txt(g,912,338,"(g)",{size:19});
    g.append("rect").attr("x",1108).attr("y",354).attr("width",44).attr("height",26).attr("fill","#fff");
    txt(g,1111,374,"CVI",{size:18});
    txt(g,1110,422,"CIV",{fill:"#999",size:18});
  }});

// (h)
panel({x:xR, top:445, bottom:578, yDomain:[-0.026,3.444], yMajor:yTicks.h, yMinor:yTicks.hMin, yFmt:d3.format("d"), pad:8, fs:22, sx:1.15,
  xMajor:xTicksR, xMinor:xMinorR, xGrid:[2,4,6], xLabels:true,
  draw:(p,x,y)=>{
    errSquares(p,x,y,tR,zeffR,zeffR_err,"#222","#fff",5,4.5,1);
    errSquares(p,x,y,phaH_t,phaH_v,null,"#ff0000","#ff0000",9,0,1);
  },
  labels:(g)=>{
    txt(g,748,483,[{t:"Z"},{t:"eff",sub:20,dy:6}],{size:23});
    txt(g,908,476,"(h)",{size:19});
    txt(g,1108,500,"PHA",{fill:"#ff0000",size:18});
    txt(g,790,571,"Visible spec.",{size:16});
  }});

// x-axis titles
txt(svg,300,640,"time (s)",{size:25,anchor:"middle"});
txt(svg,960,628,"time (s)",{size:25,anchor:"middle"});
</script>
</body></html>
